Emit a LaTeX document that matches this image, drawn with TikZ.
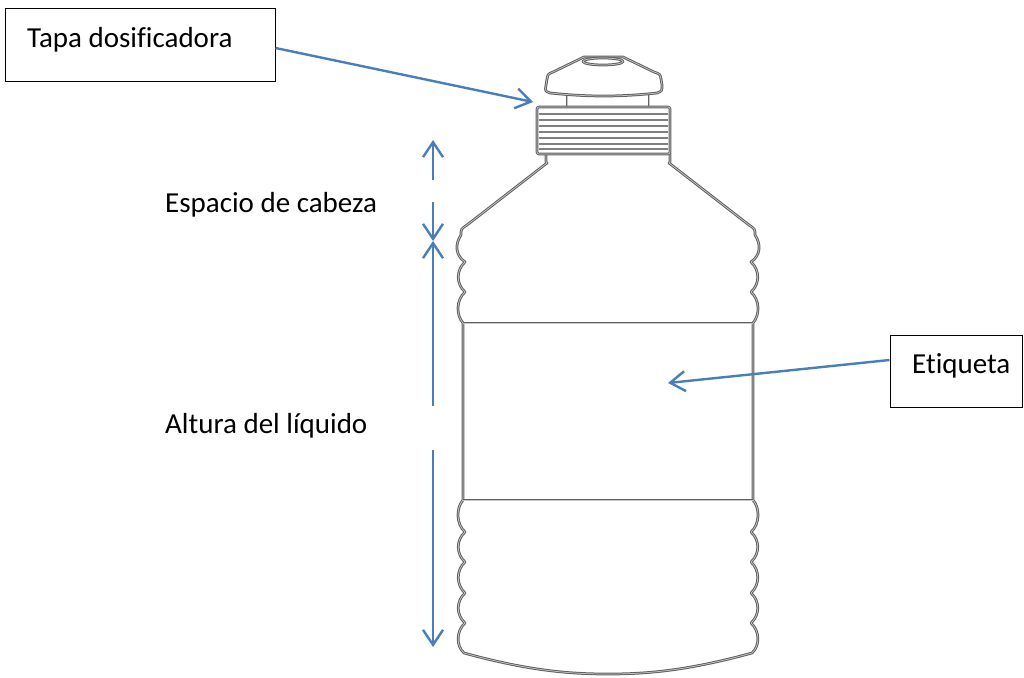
\documentclass[tikz,border=0pt]{standalone}
\usepackage{fontspec}
\setmainfont[Ligatures=NoCommon]{Carlito}
\usetikzlibrary{arrows.meta}
\definecolor{callout}{HTML}{4A7EBB}
\tikzset{
  bottle/.style={draw=black!62, double=black!22, double distance=0.7pt, line width=1pt, line join=round},
  stripe/.style={draw=black!50, line width=2.4pt},
  labeltext/.style={anchor=base west, inner sep=0pt, font=\fontsize{29}{34}\selectfont},
  callbox/.style={draw=black, line width=1pt, fill=white, inner sep=0pt},
  pointer/.style={draw=callout, line width=2.4pt, -{Straight Barb[length=15pt, width=20pt, line width=2.4pt]}}
}
\newcommand{\halfbottle}{%
  % neck tab, shoulder and scalloped wall of one side
  \draw[bottle] (546,153) -- (546,162) -- (547,163) -- (467,225)
    .. controls (461,229) .. (461,235)
    .. controls (455,244) and (455,255) .. (465,262)
    .. controls (456,270) and (456,284) .. (465,292)
    .. controls (456,300) and (456,315) .. (463,323)
    -- (463,500)
    .. controls (456,508) and (456,524) .. (465,532)
    .. controls (456,540) and (456,554) .. (465,562)
    .. controls (456,570) and (456,585) .. (465,593)
    .. controls (456,601) and (456,615) .. (465,623)
    .. controls (456,631) and (456,646) .. (464,653)
    .. controls (530,671) and (570,674) .. (608,674);
  % post under the dome
  \draw[bottle] (567,94) -- (567,107);
}
\begin{document}
\begin{tikzpicture}[x=1pt, y=-1pt]
\useasboundingbox[fill=white] (0,0) rectangle (1024,677);

% bottle body: both halves
\halfbottle
\begin{scope}[shift={(1216,0)}, xscale=-1]
  \halfbottle
\end{scope}

% label band
\draw[bottle] (463,323) -- (753,323);
\draw[bottle] (463,500) -- (753,500);

% threaded collar
\draw[bottle, rounded corners=2pt] (537,107) rectangle (670,154);
\foreach \yy in {114,120,126,132,138,144,149}
  \draw[stripe] (539,\yy) -- (668,\yy);

% dispensing cap dome
\draw[bottle] (550,93) .. controls (545,91) .. (546,85) -- (547,79)
  .. controls (548,74) .. (553,72) -- (584,57) -- (623,57) -- (654,72)
  .. controls (660,74) .. (661,79) -- (662,85) .. controls (662,91) .. (657,93)
  .. controls (620,97) and (588,97) .. (550,93) -- cycle;
\draw[bottle] (603,61.5) ellipse [x radius=20, y radius=3.5];

% callout boxes and texts
\node[callbox, minimum width=270pt, minimum height=72pt] (tapabox) at (140,45) {};
\node[labeltext] (tapatext) at (27,48) {Tapa dosificadora};
\node[callbox, minimum width=132pt, minimum height=72pt] (etibox) at (956,371) {};
\node[labeltext] (etitext) at (912,373) {Etiqueta};
\node[labeltext] (headtext) at (165,212) {Espacio de cabeza};
\node[labeltext] (liqtext) at (165,433) {Altura del líquido};

% pointer targets
\coordinate (captip) at (533,102);
\coordinate (labeltip) at (668,383);
\coordinate (headtop) at (433,140);
\coordinate (headfrom) at (433,180);
\coordinate (headlow) at (433,202);
\coordinate (meet) at (433,241);
\coordinate (liqup) at (433,406);
\coordinate (liqdown) at (433,450);
\coordinate (liqbottom) at (433,647);

\draw[pointer] ([yshift=-3pt]tapabox.east) -- (captip);
\draw[pointer] ([yshift=11pt]etibox.west) -- (labeltip);

% height dimension arrows
\draw[pointer] (headfrom) -- (headtop);
\draw[pointer] (headlow) -- (meet);
\draw[pointer] (liqup) -- (meet);
\draw[pointer] (liqdown) -- (liqbottom);
\end{tikzpicture}
\end{document}
